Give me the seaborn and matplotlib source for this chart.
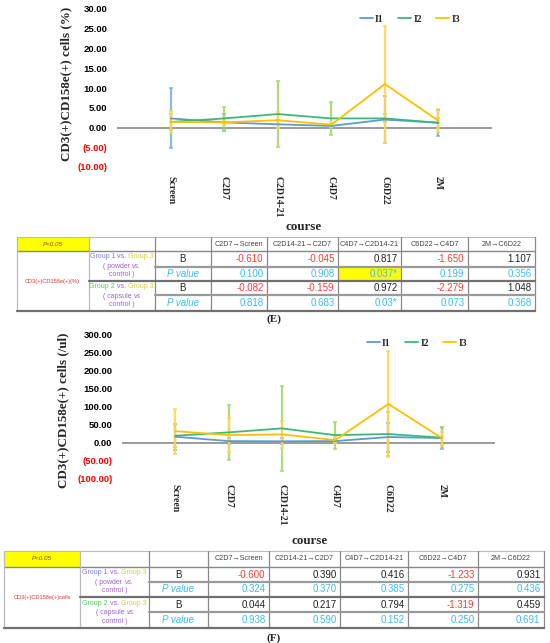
import numpy as np
import pandas as pd
import matplotlib
matplotlib.use("Agg")
import matplotlib.pyplot as plt
import seaborn as sns
from matplotlib.lines import Line2D
from matplotlib.ticker import FuncFormatter, MultipleLocator

# ---------------- data ----------------
courses = ["Screen", "C2D7", "C2D14-21", "C4D7", "C6D22", "2M"]
groups = ["I1", "I2", "I3"]

# Chart E: CD3(+)CD158e(+) cells (%)
e_I1 = [2.3, 1.3, 0.8, 0.4, 2.0, 1.2]
e_I2 = [1.4, 2.3, 3.4, 2.3, 2.3, 1.2]
e_I3 = [1.4, 1.3, 1.85, 0.7, 11.0, 1.7]
e_I1_sd = [7.6, 2.1, 1.0, 0.5, 5.9, 3.3]
e_I2_sd = [2.0, 3.0, 8.45, 4.2, 1.0, 1.2]
e_I3_sd = [2.75, 0.6, 2.1, 0.5, 14.8, 2.95]

# Chart F: CD3(+)CD158e(+) cells (/ul)
f_I1 = [16.6, 4.6, 4.0, 4.6, 15.7, 13.0]
f_I2 = [19.3, 28.6, 39.6, 21.0, 24.0, 14.0]
f_I3 = [32.0, 21.0, 23.0, 7.4, 107.0, 13.0]
f_I1_sd = [36.0, 8.0, 8.0, 5.0, 40.0, 31.0]
f_I2_sd = [32.0, 75.0, 118.0, 37.5, 60.0, 28.0]
f_I3_sd = [62.0, 47.0, 36.5, 8.0, 146.0, 18.0]

# Tables
tbl_headers = ["C2D7\u2192Screen", "C2D14-21\u2192C2D7", "C4D7\u2192C2D14-21",
               "C6D22\u2192C4D7", "2M\u2192C6D22"]
tE_B1 = ["-0.610", "-0.045", "0.817", "-1.650", "1.107"]
tE_P1 = ["0.100", "0.908", "0.037*", "0.199", "0.356"]
tE_B2 = ["-0.082", "-0.159", "0.972", "-2.279", "1.048"]
tE_P2 = ["0.818", "0.683", "0.03*", "0.073", "0.368"]
tE_highlight = (0, 2)  # (P row of group 1, column index)
tE_label = "CD3(+)CD158e(+)(%)"

tF_B1 = ["-0.600", "0.390", "0.416", "-1.233", "0.931"]
tF_P1 = ["0.324", "0.370", "0.385", "0.275", "0.436"]
tF_B2 = ["0.044", "0.217", "0.794", "-1.319", "0.459"]
tF_P2 = ["0.938", "0.590", "0.152", "0.250", "0.691"]
tF_label = "CD3(+)CD158e(+)cells"

# ---------------- style ----------------
sns.set_theme(style="white")
plt.rcParams["font.family"] = ["Liberation Sans", "DejaVu Sans"]
SERIF = ["Liberation Serif", "DejaVu Serif"]
SANS = ["Liberation Sans", "DejaVu Sans"]

line_colors = {"I1": "#5B9BD5", "I2": "#3DB87A", "I3": "#FFC000"}
err_colors = {"I1": "#7FB2E0", "I2": "#A8D86E", "I3": "#FFD54F"}

W, H = 550, 643
fig = plt.figure(figsize=(W / 100, H / 100), dpi=100)


def px_axes(left, right, top, bottom):
    return fig.add_axes([left / W, 1 - bottom / H, (right - left) / W, (bottom - top) / H])


ov = fig.add_axes([0, 0, 1, 1], zorder=-1)
ov.set_xlim(0, W)
ov.set_ylim(H, 0)
ov.axis("off")


def make_chart(ax, means, sds, ylim, step, ylabel_text, lab_pad, leg_xy, ylab_xy, course_xy):
    rows = []
    for g, m in zip(groups, means):
        for i, v in enumerate(m):
            rows.append({"pos": i, "value": v, "group": g})
    df = pd.DataFrame(rows)
    x = np.arange(len(courses))
    for g, m, s in zip(groups, means, sds):
        ax.errorbar(x, m, yerr=s, fmt="none", ecolor=err_colors[g], elinewidth=1.6,
                    capsize=1.5, capthick=1.2, alpha=0.9, zorder=2)
    sns.lineplot(data=df, x="pos", y="value", hue="group", hue_order=groups,
                 palette=line_colors, linewidth=1.3, legend=False, ax=ax, zorder=4, sort=False)
    ax.axhline(0, color="#808080", lw=1.1, zorder=1)
    ax.set_xlim(-1, 6)
    ax.set_ylim(*ylim)
    ax.yaxis.set_major_locator(MultipleLocator(step))
    ax.yaxis.set_major_formatter(FuncFormatter(
        lambda v, p: f"({abs(v):.2f})" if v < 0 else f"{v:.2f}"))
    for sp in ax.spines.values():
        sp.set_visible(False)
    ax.set_xticks(np.arange(len(courses)))
    ax.set_xticklabels(courses, rotation=270, fontfamily=SERIF, fontweight="bold",
                       fontsize=7, va="top", ha="center")
    ax.tick_params(axis="x", length=0, pad=lab_pad)
    ax.tick_params(axis="y", length=0, pad=7)
    ax.set_xlabel("")
    ax.set_ylabel("")
    for lbl in ax.get_yticklabels():
        lbl.set_fontweight("bold")
        lbl.set_fontsize(6.8)
        lbl.set_fontfamily(SANS)
    fig.canvas.draw()
    for lbl, v in zip(ax.get_yticklabels(), ax.get_yticks()):
        lbl.set_color("#FF0000" if v < 0 else "#000000")
    handles = [Line2D([0], [0], color=line_colors[g], lw=1.3) for g in groups]
    ax.legend(handles, groups, loc="center", bbox_to_anchor=(leg_xy[0] / W, 1 - leg_xy[1] / H),
              bbox_transform=fig.transFigure, ncol=3, frameon=False,
              prop={"family": SERIF, "weight": "bold", "size": 7},
              handlelength=1.3, handletextpad=0.25, columnspacing=1.5)
    ov.text(ylab_xy[0], ylab_xy[1], ylabel_text, rotation=90, ha="center", va="center",
            fontfamily=SERIF, fontweight="bold", fontsize=9.4)
    ov.text(course_xy[0], course_xy[1], "course", ha="center", va="center",
            fontfamily=SERIF, fontweight="bold", fontsize=9.4)


axE = px_axes(117, 492, 9, 167)
make_chart(axE, [e_I1, e_I2, e_I3], [e_I1_sd, e_I2_sd, e_I3_sd], (-10, 30), 5,
           "CD3(+)CD158e(+) cells (%)", 6.5, (410, 19), (66, 84), (304, 227))

axF = px_axes(122, 495, 334, 479)
make_chart(axF, [f_I1, f_I2, f_I3], [f_I1_sd, f_I2_sd, f_I3_sd], (-100, 300), 50,
           "CD3(+)CD158e(+) cells (/ul)", 3.5, (417, 343), (63, 410), (310, 541))

renderer = fig.canvas.get_renderer()


def text_width(s, **kw):
    t = ov.text(0, 0, s + "|", **kw)
    w1 = t.get_window_extent(renderer=renderer).width
    t.remove()
    t = ov.text(0, 0, "|", **kw)
    w2 = t.get_window_extent(renderer=renderer).width
    t.remove()
    return w1 - w2


def seg_text(xc, y, segs, size):
    full = ""
    offsets = []
    for s, c, st in segs:
        offsets.append(text_width(full, family=SANS, fontsize=size) if full else 0.0)
        full += s
    total = text_width(full, family=SANS, fontsize=size)
    x0 = xc - total / 2
    for (s, c, st), off in zip(segs, offsets):
        ov.text(x0 + off, y, s, color=c, style=st, family=SANS, fontsize=size,
                ha="left", va="center")


RED = "#FF3B3B"
BLUE = "#3CBDEE"
PURPLE = "#9A62D6"
G1C = "#7C7CEB"
G2C = "#55C95A"
G3C = "#CFCF3A"


def draw_table(cols, rows, B1, P1, B2, P2, label, highlight, label_x):
    x0, x8 = cols[0], cols[-1]
    # yellow P<0.05 cell
    ov.add_patch(plt.Rectangle((cols[0], rows[0]), cols[1] - cols[0], rows[1] - rows[0],
                               facecolor="#FFFF00", edgecolor="none", zorder=1))
    ov.text((cols[0] + cols[1]) / 2, (rows[0] + rows[1]) / 2, "P<0.05", style="italic",
            family=SANS, fontsize=4.5, color="#8A4B1A", ha="center", va="center")
    if highlight is not None:
        r, c = highlight
        ri = 2 if r == 0 else 4
        ov.add_patch(plt.Rectangle((cols[c + 3], rows[ri]), cols[c + 4] - cols[c + 3],
                                   rows[ri + 1] - rows[ri], facecolor="#FFFF00",
                                   edgecolor="none", zorder=1))
    # grid lines
    ov.plot([x0, x8], [rows[0], rows[0]], color="#BBBBBB", lw=0.8)
    ov.plot([x0, x8], [rows[1], rows[1]], color="#888888", lw=1.0)
    for c in cols:
        col = "#BBBBBB" if c in (cols[0], cols[1]) else "#888888"
        ov.plot([c, c], [rows[0], rows[-1]], color=col, lw=0.9)
    ov.plot([cols[2], x8], [rows[2], rows[2]], color="#9A9A9A", lw=1.6)
    ov.plot([cols[2], x8], [rows[4], rows[4]], color="#9A9A9A", lw=1.6)
    ov.plot([cols[1], x8], [rows[3], rows[3]], color="#707070", lw=1.6)
    ov.plot([x0, x8], [rows[5], rows[5]], color="#707070", lw=1.6)
    # headers
    for j, h in enumerate(tbl_headers):
        ov.text((cols[j + 3] + cols[j + 4]) / 2, (rows[0] + rows[1]) / 2, h, family=SANS,
                fontsize=5.2, color="#444444", ha="center", va="center")
    # row label
    ov.text(label_x, (rows[1] + rows[5]) / 2, label, family=SANS, fontsize=4.1,
            color="#E83030", ha="center", va="center")
    # group labels
    gx = (cols[1] + cols[2]) / 2
    for gi, (gname, gcol, kind) in enumerate([("Group 1", G1C, "powder"),
                                               ("Group 2", G2C, "capsule")]):
        yc = (rows[1 + 2 * gi] + rows[3 + 2 * gi]) / 2
        seg_text(gx, yc - 9, [(gname, gcol, "normal"), (" vs. ", PURPLE, "normal"),
                              ("Group 3", G3C, "normal")], 5.0)
        seg_text(gx, yc, [(f"( {kind} ", PURPLE, "normal"), ("vs" + ("." if kind == "powder" else ""),
                                                            PURPLE, "italic")], 5.0)
        seg_text(gx, yc + 9, [("control )", PURPLE, "normal")], 5.0)
    # B / P value labels and values
    data_rows = [(B1, "B"), (P1, "P"), (B2, "B"), (P2, "P")]
    for ri, (vals, kind) in enumerate(data_rows):
        yc = (rows[ri + 1] + rows[ri + 2]) / 2
        if kind == "B":
            ov.text((cols[2] + cols[3]) / 2, yc, "B", family=SANS, fontsize=7,
                    color="#222222", ha="center", va="center")
        else:
            ov.text((cols[2] + cols[3]) / 2, yc, "P value", family=SANS, fontsize=7,
                    style="italic", color=BLUE, ha="center", va="center")
        for j, v in enumerate(vals):
            if kind == "P":
                col = BLUE
            else:
                col = RED if v.startswith("-") else "#222222"
            ov.text(cols[j + 4] - 3.5, yc, v, family=SANS, fontsize=7, color=col,
                    ha="right", va="center")


colsE = [16.5, 88.6, 154.7, 211, 267, 338, 401, 468, 535]
rowsE = [237, 251, 267, 281, 295, 311]
draw_table(colsE, rowsE, tE_B1, tE_P1, tE_B2, tE_P2, tE_label, tE_highlight, 52)
ov.text(274, 319, "(E)", family=SERIF, fontsize=8, fontweight="bold", ha="center", va="center")

colsF = [3.5, 80, 149, 208, 269, 340, 408, 478, 544]
rowsF = [551, 567, 582, 597, 612, 628]
draw_table(colsF, rowsF, tF_B1, tF_P1, tF_B2, tF_P2, tF_label, None, 42)
ov.text(274, 638, "(F)", family=SERIF, fontsize=8, fontweight="bold", ha="center", va="center")

fig.savefig("out.png", dpi=100)
